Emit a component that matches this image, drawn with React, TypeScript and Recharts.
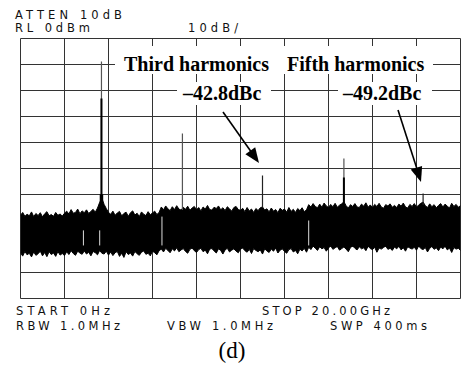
import React from 'react';
import { ComposedChart, Area, Line, XAxis, YAxis, CartesianGrid } from 'recharts';

// Sweep frequencies (GHz)
const freqs = [
  0.0, 0.1, 0.2, 0.3, 0.4, 0.5, 0.6, 0.7, 0.8, 0.9,
  1.0, 1.1, 1.2, 1.3, 1.4, 1.5, 1.6, 1.7, 1.8, 1.9,
  2.0, 2.1, 2.2, 2.3, 2.4, 2.5, 2.6, 2.7, 2.8, 2.9,
  3.0, 3.1, 3.2, 3.3, 3.4, 3.5, 3.6, 3.7, 3.8, 3.9,
  4.0, 4.1, 4.2, 4.3, 4.4, 4.5, 4.6, 4.7, 4.8, 4.9,
  5.0, 5.1, 5.2, 5.3, 5.4, 5.5, 5.6, 5.7, 5.8, 5.9,
  6.0, 6.1, 6.2, 6.3, 6.4, 6.5, 6.6, 6.7, 6.8, 6.9,
  7.0, 7.1, 7.2, 7.3, 7.4, 7.5, 7.6, 7.7, 7.8, 7.9,
  8.0, 8.1, 8.2, 8.3, 8.4, 8.5, 8.6, 8.7, 8.8, 8.9,
  9.0, 9.1, 9.2, 9.3, 9.4, 9.5, 9.6, 9.7, 9.8, 9.9,
  10.0, 10.1, 10.2, 10.3, 10.4, 10.5, 10.6, 10.7, 10.8, 10.9,
  11.0, 11.1, 11.2, 11.3, 11.4, 11.5, 11.6, 11.7, 11.8, 11.9,
  12.0, 12.1, 12.2, 12.3, 12.4, 12.5, 12.6, 12.7, 12.8, 12.9,
  13.0, 13.1, 13.2, 13.3, 13.4, 13.5, 13.6, 13.7, 13.8, 13.9,
  14.0, 14.1, 14.2, 14.3, 14.4, 14.5, 14.6, 14.7, 14.8, 14.9,
  15.0, 15.1, 15.2, 15.3, 15.4, 15.5, 15.6, 15.7, 15.8, 15.9,
  16.0, 16.1, 16.2, 16.3, 16.4, 16.5, 16.6, 16.7, 16.8, 16.9,
  17.0, 17.1, 17.2, 17.3, 17.4, 17.5, 17.6, 17.7, 17.8, 17.9,
  18.0, 18.1, 18.2, 18.3, 18.4, 18.5, 18.6, 18.7, 18.8, 18.9,
  19.0, 19.1, 19.2, 19.3, 19.4, 19.5, 19.6, 19.7, 19.8, 19.9,
  20.0,
];

// Noise floor upper envelope (dBm)
const noiseHi = [
  // 0.0 - 2.0
  -68.0, -66.9, -68.4, -67.6, -68.2, -66.7, -68.5, -67.3, -68.1, -67.0,
  -68.6, -67.4, -66.6, -68.2, -67.7, -68.4, -66.9, -68.0, -67.5, -68.3, -67.2,
  // 2.1 - 6.3
  -66.4, -67.5, -65.8, -67.2, -66.9, -65.6, -67.4, -66.3, -67.0, -65.9,
  -67.3, -66.5, -65.7, -66.8, -65.2, -63.0, -61.5, -63.8, -65.4, -66.9,
  -67.6, -66.4, -68.0, -67.1, -66.5, -68.2, -67.3, -66.8, -68.4, -67.0,
  -66.3, -67.9, -67.2, -68.5, -66.7, -67.6, -68.1, -66.6, -67.8, -67.1,
  -66.4, -67.7, -66.9,
  // 6.4 - 13.0
  -64.8, -65.9, -64.4, -65.5, -66.2, -64.7, -65.8, -64.3, -65.6, -66.0,
  -64.9, -65.7, -64.5, -66.1, -65.2, -64.6, -65.9, -65.0, -66.3, -64.8,
  -65.6, -64.2, -65.8, -66.0, -64.9, -65.4, -64.4, -65.9, -65.1, -66.2,
  -64.7, -65.5, -66.4, -65.0, -64.6, -65.8, -66.1, -65.3, -66.6, -65.0,
  -66.3, -65.6, -66.9, -65.4, -66.2, -65.1, -64.8, -66.0, -65.5, -66.7,
  -65.2, -66.4, -65.8, -67.0, -65.3, -66.1, -65.6, -66.8, -65.0, -66.5,
  -65.7, -66.9, -65.4, -66.2, -65.1, -66.6, -65.9,
  // 13.1 - 20.0
  -63.9, -64.8, -63.5, -64.6, -65.1, -63.7, -64.9, -63.3, -64.4, -65.0,
  -63.8, -64.7, -63.4, -64.9, -64.1, -63.6, -62.8, -64.3, -65.2, -63.9,
  -64.6, -63.5, -64.8, -65.0, -63.7, -64.5, -63.2, -64.9, -64.0, -65.1,
  -63.8, -64.6, -63.4, -64.8, -65.3, -63.9, -64.4, -63.6, -64.9, -64.2,
  -65.0, -63.7, -64.5, -63.3, -64.8, -65.2, -63.8, -64.6, -63.5, -64.9,
  -64.0, -63.4, -62.9, -64.3, -65.0, -63.6, -64.7, -63.9, -65.1, -64.2,
  -63.5, -64.8, -63.7, -64.5, -65.2, -63.4, -64.6, -63.8, -64.9, -64.3,
];

// Noise floor lower envelope (dBm)
const noiseLo = [
  // 0.0 - 2.0
  -82.4, -83.7, -81.9, -83.2, -82.6, -84.0, -82.1, -83.4, -82.8, -81.8,
  -83.6, -82.3, -83.9, -82.0, -83.1, -82.5, -83.8, -81.9, -83.3, -82.7, -83.5,
  // 2.1 - 6.3
  -82.0, -83.1, -81.6, -82.7, -83.4, -81.8, -82.5, -83.0, -81.7, -82.9,
  -82.2, -83.6, -81.9, -82.4, -83.2, -81.5, -82.6, -82.9, -81.8, -83.3,
  -82.1, -83.5, -82.4, -81.9, -83.8, -82.6, -84.2, -82.0, -83.1, -82.5,
  -83.7, -81.9, -82.8, -83.4, -82.2, -81.7, -83.0, -82.6, -83.6, -81.8,
  -82.4, -83.2, -81.6,
  // 6.4 - 13.0
  -81.0, -82.1, -80.7, -81.5, -82.4, -80.9, -81.7, -80.5, -82.0, -81.3,
  -80.8, -81.9, -82.6, -81.1, -80.6, -81.6, -82.3, -81.2, -80.7, -82.0,
  -81.4, -82.8, -81.0, -80.8, -81.7, -82.5, -80.9, -81.5, -82.9, -81.3,
  -80.7, -82.1, -81.4, -80.9, -81.8, -82.4, -81.0, -80.6, -81.6, -82.2,
  -81.1, -82.7, -80.8, -81.5, -82.0, -81.3, -82.9, -80.9, -81.7, -82.3,
  -81.0, -81.8, -80.6, -82.5, -81.4, -80.9, -81.9, -82.6, -81.2, -80.8,
  -82.1, -81.5, -82.8, -81.0, -81.7, -80.7, -82.2,
  // 13.1 - 20.0
  -80.3, -81.2, -79.8, -80.7, -81.5, -80.1, -80.9, -80.4, -81.8, -80.6,
  -79.7, -81.1, -80.5, -80.0, -81.4, -80.8, -80.2, -81.0, -82.0, -80.4,
  -79.8, -80.7, -81.3, -80.1, -80.9, -80.5, -81.6, -79.9, -80.8, -81.2,
  -80.3, -82.2, -80.6, -81.0, -80.4, -79.8, -81.1, -80.7, -81.5, -80.2,
  -80.9, -79.9, -81.3, -80.5, -81.8, -80.1, -80.6, -81.0, -80.3, -81.4,
  -79.8, -80.8, -81.2, -80.4, -82.1, -80.7, -80.0, -81.1, -80.5, -81.6,
  -80.2, -80.9, -79.9, -81.3, -80.6, -82.3, -80.4, -81.0, -80.7, -81.5,
];

// Fundamental and harmonics (GHz, dBm)
const spurFreq = [3.68, 7.36, 11.0, 14.7, 18.3];
const spurPeak = [-8.8, -36.5, -52.7, -46.2, -59.6];
const spurBase = [-66, -66, -65, -64, -64];
// solid (bold) lower parts of some spurs
const boldFreq = [3.68, 14.7];
const boldTop = [-23.1, -53.5];
const skirtTop = -60;

// Sweep band-switch gaps inside the trace
const gapFreq = [2.86, 3.6, 6.43, 13.1];
const gapTop = [-73.8, -73.8, -68.5, -70.0];
const gapBottom = [-79.6, -79.6, -79.6, -79.6];

const xTicks = [0, 2, 4, 6, 8, 10, 12, 14, 16, 18, 20];
const yTicks = [-100, -90, -80, -70, -60, -50, -40, -30, -20, -10, 0];

const noiseData = freqs.map((f, i) => ({ f, band: [noiseLo[i], noiseHi[i]] }));

const hdr = '"DejaVu Sans", sans-serif';
const serif = '"Liberation Serif", "Times New Roman", serif';

export default function App() {
  return (
    <div style={{ position: 'absolute', left: 0, top: 0, width: 461, height: 365, background: '#fff' }}>
      <ComposedChart
        width={461}
        height={365}
        data={noiseData}
        margin={{ top: 38.5, right: 0.5, bottom: 66.5, left: 20.5 }}
      >
        <XAxis dataKey="f" type="number" domain={[0, 20]} ticks={xTicks} hide allowDataOverflow />
        <YAxis type="number" domain={[-100, 0]} ticks={yTicks} hide allowDataOverflow />
        <CartesianGrid stroke="#333" strokeWidth={1} />
        <Area
          dataKey="band"
          type="linear"
          stroke="#000"
          strokeWidth={1}
          fill="#000"
          fillOpacity={1}
          isAnimationActive={false}
          dot={false}
          activeDot={false}
        />
        {spurFreq.map((f, i) => (
          <Line
            key={'s' + i}
            data={[{ f, v: spurBase[i] }, { f, v: spurPeak[i] }]}
            dataKey="v"
            stroke={i === 2 || i === 4 ? '#222' : '#555'}
            strokeWidth={1.2}
            dot={false}
            activeDot={false}
            isAnimationActive={false}
          />
        ))}
        {boldFreq.map((f, i) => (
          <Line
            key={'b' + i}
            data={[{ f, v: spurBase[0] }, { f, v: boldTop[i] }]}
            dataKey="v"
            stroke="#000"
            strokeWidth={2}
            dot={false}
            activeDot={false}
            isAnimationActive={false}
          />
        ))}
        <Line
          data={[{ f: spurFreq[0], v: spurBase[0] }, { f: spurFreq[0], v: skirtTop }]}
          dataKey="v"
          stroke="#000"
          strokeWidth={3.5}
          dot={false}
          activeDot={false}
          isAnimationActive={false}
        />
        {gapFreq.map((f, i) => (
          <Line
            key={'g' + i}
            data={[{ f, v: gapBottom[i] }, { f, v: gapTop[i] }]}
            dataKey="v"
            stroke="#ddd"
            strokeWidth={1}
            dot={false}
            activeDot={false}
            isAnimationActive={false}
          />
        ))}
      </ComposedChart>
      <svg
        width={461}
        height={365}
        style={{ position: 'absolute', left: 0, top: 0, pointerEvents: 'none' }}
      >
        <g fontFamily={hdr} fontSize={11.5} fill="#111">
          <text x={15} y={19} textLength={107} lengthAdjust="spacing">ATTEN 10dB</text>
          <text x={15} y={32} textLength={75} lengthAdjust="spacing">RL 0dBm</text>
          <text x={188} y={32} textLength={50} lengthAdjust="spacing">10dB/</text>
          <text x={16} y={314.5} textLength={94} lengthAdjust="spacing">START 0Hz</text>
          <text x={262} y={314.5} textLength={128} lengthAdjust="spacing">STOP 20.00GHz</text>
          <text x={16} y={329.5} textLength={104} lengthAdjust="spacing">RBW 1.0MHz</text>
          <text x={167} y={329.5} textLength={106} lengthAdjust="spacing">VBW 1.0MHz</text>
          <text x={330} y={329.5} textLength={97} lengthAdjust="spacing">SWP 400ms</text>
        </g>
        <rect x={115} y={46} width={318} height={28} fill="#fff" />
        <rect x={177} y={82} width={94} height={23} fill="#fff" />
        <rect x={338} y={82} width={94} height={23} fill="#fff" />
        <g fontFamily={serif} fontSize={20} fontWeight="bold" fill="#000">
          <text x={124} y={71}>Third harmonics</text>
          <text x={287} y={71}>Fifth harmonics</text>
          <text x={183} y={99.5}>–42.8dBc</text>
          <text x={343} y={99.5}>–49.2dBc</text>
        </g>
        <g stroke="#000" strokeWidth={1.6}>
          <line x1={223} y1={112} x2={252} y2={153} />
          <line x1={398} y1={110} x2={417} y2={169} />
        </g>
        <polygon points="259,163 245.4,154.2 255.2,147.2" fill="#000" />
        <polygon points="421,182 410.7,169.5 422.1,165.9" fill="#000" />
        <text x={232} y={358} textAnchor="middle" fontFamily={serif} fontSize={23} fill="#000">(d)</text>
      </svg>
    </div>
  );
}
